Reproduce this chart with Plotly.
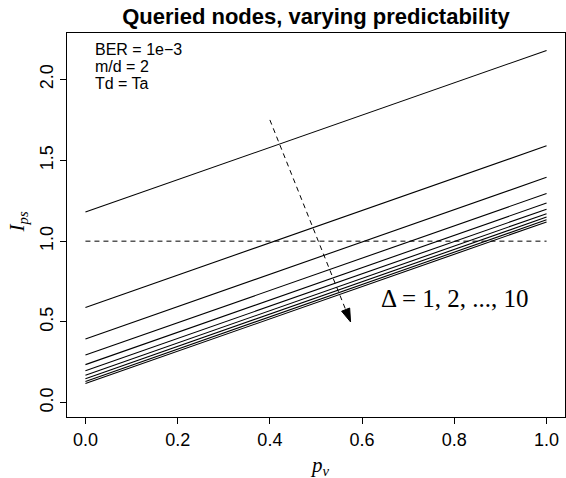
import plotly.graph_objects as go

# ---- data ----
pv = [0.0, 1.0]                      # x-axis: predictability p_v
delta = [1, 2, 3, 4, 5, 6, 7, 8, 9, 10]
ips_at_pv0 = [1.180, 0.590, 0.395, 0.295, 0.236, 0.198, 0.170, 0.149, 0.132, 0.119]
ips_at_pv1 = [2.180, 1.590, 1.395, 1.295, 1.236, 1.198, 1.170, 1.149, 1.132, 1.119]

threshold = 1.0
arrow_x = [0.40, 0.575]
arrow_y = [1.75, 0.50]

x_ticks = [0.0, 0.2, 0.4, 0.6, 0.8, 1.0]
y_ticks = [0.0, 0.5, 1.0, 1.5, 2.0]

title_text = "<b>Queried nodes, varying predictability</b>"
info_lines = ["BER = 1e\u22123", "m/d = 2", "Td = Ta"]
delta_label = "\u0394 = 1, 2, ..., 10"

SANS = "Liberation Sans, Arial, Helvetica, sans-serif"
SERIF = "Liberation Serif, Times New Roman, serif"

fig = go.Figure()

for d, y0, y1 in zip(delta, ips_at_pv0, ips_at_pv1):
    fig.add_trace(go.Scatter(
        x=pv, y=[y0, y1], mode="lines",
        line=dict(color="black", width=1.1),
        name=f"\u0394={d}", showlegend=False, hoverinfo="skip"))

# horizontal dashed reference line at I_ps = 1
fig.add_trace(go.Scatter(
    x=pv, y=[threshold, threshold], mode="lines",
    line=dict(color="black", width=1, dash="5px,4px"),
    showlegend=False, hoverinfo="skip"))

# dashed arrow
fig.add_trace(go.Scatter(
    x=arrow_x, y=arrow_y, mode="lines+markers",
    line=dict(color="black", width=1, dash="5px,4px"),
    marker=dict(symbol="arrow", angleref="previous", size=[0, 14],
                color="black", opacity=1,
                line=dict(width=1, color="black")),
    showlegend=False, hoverinfo="skip"))

annotations = []
line_y_px = [50, 67, 84]
for txt, ypx in zip(info_lines, line_y_px):
    annotations.append(dict(
        text=txt, xref="paper", yref="paper",
        x=(93 - 67.3) / 498.0, y=(417.3 - ypx) / 384.0,
        xanchor="left", yanchor="middle", showarrow=False,
        font=dict(family=SANS, size=16, color="black")))

annotations.append(dict(
    text=delta_label, xref="paper", yref="paper",
    x=(455 - 67.3) / 498.0, y=(417.3 - 299) / 384.0,
    xanchor="center", yanchor="middle", showarrow=False,
    font=dict(family=SERIF, size=25, color="black")))

# axis titles
annotations.append(dict(
    text="<i>p</i><sub><i>v</i></sub>", xref="paper", yref="paper",
    x=(320 - 67.3) / 498.0, y=-(466 - 417.3) / 384.0,
    xanchor="center", yanchor="middle", showarrow=False,
    font=dict(family=SERIF, size=21, color="black")))
annotations.append(dict(
    text="<i>I</i><sub><i>ps</i></sub>", xref="paper", yref="paper",
    x=(18 - 67.3) / 498.0, y=(417.3 - 222) / 384.0,
    xanchor="center", yanchor="middle", textangle=-90, showarrow=False,
    font=dict(family=SERIF, size=21, color="black")))

axis_common = dict(
    showline=True, linecolor="black", linewidth=1, mirror=True,
    ticks="outside", ticklen=6, tickcolor="black", tickwidth=1,
    showgrid=False, zeroline=False,
    tickfont=dict(family=SANS, size=18, color="black"),
    tickformat=".1f")

fig.update_layout(
    width=566, height=478,
    margin=dict(l=67, r=1, t=33, b=61),
    paper_bgcolor="white", plot_bgcolor="white",
    title=dict(text=title_text, x=(316 - 0) / 566.0, xanchor="center",
               y=1 - 16 / 478.0, yanchor="middle",
               font=dict(family=SANS, size=22, color="black")),
    xaxis=dict(range=[-0.04, 1.04], tickvals=x_ticks, **axis_common),
    yaxis=dict(range=[-0.088, 2.288], tickvals=y_ticks, tickangle=-90,
               **axis_common),
    annotations=annotations,
)

fig.write_html("out.html")
